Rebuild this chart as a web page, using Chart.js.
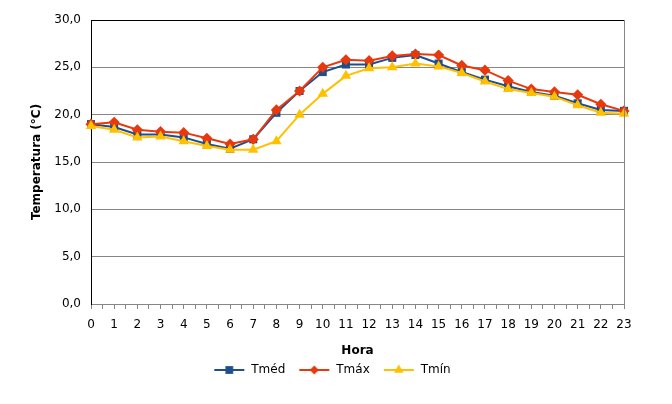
<!DOCTYPE html>
<html lang="pt">
<head>
<meta charset="utf-8">
<title>Temperatura por hora</title>
<script src="https://cdn.jsdelivr.net/npm/chart.js@4/dist/chart.umd.min.js"></script>
<style>
    html, body { margin: 0; padding: 0; background: #fff; }
    canvas { display: block; }
</style>
</head>
<body>
<canvas id="grafico" width="672" height="404"></canvas>
<script>
// Dados (°C por hora)
const horas = [0, 1, 2, 3, 4, 5, 6, 7, 8, 9, 10, 11, 12, 13, 14, 15, 16, 17, 18, 19, 20, 21, 22, 23];
const tMed = [19.0, 18.7, 17.9, 17.9, 17.6, 16.9, 16.4, 17.4, 20.2, 22.5, 24.5, 25.3, 25.3, 26.0, 26.3, 25.4, 24.5, 23.7, 23.0, 22.4, 22.0, 21.2, 20.5, 20.4];
const tMax = [19.0, 19.2, 18.4, 18.2, 18.1, 17.5, 16.9, 17.4, 20.5, 22.5, 25.0, 25.8, 25.7, 26.2, 26.4, 26.3, 25.2, 24.7, 23.6, 22.7, 22.4, 22.1, 21.1, 20.4];
const tMin = [18.8, 18.4, 17.6, 17.7, 17.2, 16.7, 16.3, 16.3, 17.2, 20.0, 22.2, 24.1, 24.9, 25.0, 25.4, 25.1, 24.4, 23.5, 22.7, 22.3, 21.9, 21.0, 20.2, 20.1];
const nomesSeries = ["Tméd", "Tmáx", "Tmín"];

const FONTE = "'DejaVu Sans', Verdana, sans-serif";
const CINZA = "#868686";
const cores = ["#1F4E8C", "#E8380D", "#FFC000"];
const marcadores = ["rect", "rectRot", "triangle"];
const raios = [5.7, 5.6, 6];

// pontos {x, y} para a escala linear
function serie(valores) {
    return horas.map((h, i) => ({ x: h, y: valores[i] }));
}

// ícone da legenda: linha com o marcador no meio (estilo Excel)
function iconeLegenda(cor, estilo, raio) {
    const c = document.createElement("canvas");
    c.width = 32;
    c.height = 12;
    const g = c.getContext("2d");
    g.strokeStyle = cor;
    g.fillStyle = cor;
    g.lineWidth = 2;
    g.beginPath();
    g.moveTo(1, 6);
    g.lineTo(31, 6);
    g.stroke();
    Chart.helpers.drawPoint(g, { pointStyle: estilo, radius: raio, borderWidth: 0 }, 16, 6);
    return c;
}

// título do eixo Y fora da caixa do eixo + borda direita da área do gráfico
const extras = {
    id: "extras",
    afterDraw(chart) {
        const { ctx, chartArea } = chart;
        ctx.save();
        ctx.strokeStyle = CINZA;
        ctx.lineWidth = 1;
        ctx.beginPath();
        ctx.moveTo(chartArea.right + 0.5, chartArea.top);
        ctx.lineTo(chartArea.right + 0.5, chartArea.bottom);
        ctx.stroke();

        ctx.translate(37, (chartArea.top + chartArea.bottom) / 2);
        ctx.rotate(-Math.PI / 2);
        ctx.fillStyle = "#000";
        ctx.font = "bold 12px " + FONTE;
        ctx.textAlign = "center";
        ctx.textBaseline = "middle";
        ctx.fillText("Temperatura (°C)", 0, 0);
        ctx.restore();
    }
};

const valores = [tMed, tMax, tMin];
const datasets = nomesSeries.map((nome, i) => ({
    label: nome,
    data: serie(valores[i]),
    borderColor: cores[i],
    backgroundColor: cores[i],
    borderWidth: 2,
    pointStyle: marcadores[i],
    pointRadius: raios[i],
    pointHoverRadius: raios[i],
    pointBorderWidth: 0,
    tension: 0,
    clip: false,
    order: 3 - i
}));

new Chart(document.getElementById("grafico"), {
    type: "line",
    data: { datasets: datasets },
    plugins: [extras],
    options: {
        responsive: false,
        animation: false,
        layout: { padding: { left: 40, right: 48, top: 20, bottom: 18 } },
        plugins: {
            tooltip: { enabled: false },
            legend: {
                position: "bottom",
                labels: {
                    usePointStyle: true,
                    pointStyleWidth: 32,
                    padding: 13,
                    color: "#000",
                    font: { family: FONTE, size: 12 },
                    generateLabels(chart) {
                        const itens = Chart.defaults.plugins.legend.labels.generateLabels(chart);
                        itens.sort((a, b) => a.datasetIndex - b.datasetIndex);
                        itens.forEach(it => {
                            const k = it.datasetIndex;
                            it.pointStyle = iconeLegenda(cores[k], marcadores[k], k === 1 ? 4.5 : 5.5);
                        });
                        return itens;
                    }
                }
            }
        },
        scales: {
            x: {
                type: "linear",
                min: 0,
                max: 23,
                afterFit(s) { s.height = 47; },
                ticks: {
                    stepSize: 0.5,
                    autoSkip: false,
                    maxRotation: 0,
                    padding: 9,
                    color: "#000",
                    font: { family: FONTE, size: 12 },
                    callback: v => Number.isInteger(v) ? String(v) : ""
                },
                grid: { drawOnChartArea: false, tickLength: 5, color: CINZA },
                border: { color: CINZA },
                title: {
                    display: true,
                    text: "Hora",
                    color: "#000",
                    font: { family: FONTE, size: 12, weight: "bold" },
                    padding: { top: 4, bottom: -7 }
                }
            },
            y: {
                min: 0,
                max: 30,
                afterFit(s) { s.width = 51; },
                ticks: {
                    stepSize: 5,
                    padding: 10,
                    color: "#000",
                    font: { family: FONTE, size: 12 },
                    callback: v => v.toFixed(1).replace(".", ",")
                },
                grid: {
                    drawTicks: false,
                    color: c => c.tick && c.tick.value === 30 ? "#000" : CINZA
                },
                border: { color: "#000" }
            }
        }
    }
});
</script>
</body>
</html>
